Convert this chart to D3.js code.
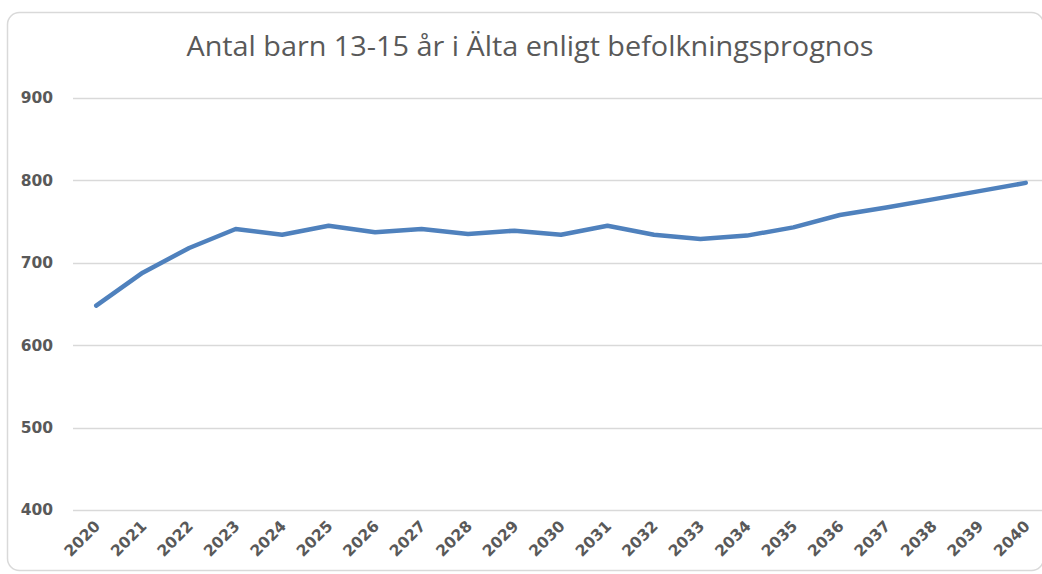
<!DOCTYPE html>
<html>
<head>
<meta charset="utf-8">
<script src="https://cdn.jsdelivr.net/npm/d3@7"></script>
<style>
  body { margin: 0; background: #fff; }
  svg { display: block; }
</style>
</head>
<body>
<svg id="chart"></svg>
<script>
// Data
const years = ["2020","2021","2022","2023","2024","2025","2026","2027","2028","2029","2030",
               "2031","2032","2033","2034","2035","2036","2037","2038","2039","2040"];
const children = [648, 688, 718, 741, 734, 745, 737, 741, 735, 739, 734,
                  745, 734, 729, 733, 743, 758, 767, 777, 787, 797];
const yTicks = [400, 500, 600, 700, 800, 900];
const title = "Antal barn 13-15 år i Älta enligt befolkningsprognos";

const width = 1042;
const height = 574;
const margin = { top: 98, right: -7, bottom: 64, left: 73 };

const svg = d3.select("#chart")
    .attr("width", width)
    .attr("height", height);

// chart frame (right edge falls just outside the picture)
svg.append("rect")
    .attr("x", 7.5).attr("y", 12.5)
    .attr("width", 1036).attr("height", 558)
    .attr("rx", 12)
    .attr("fill", "#fff")
    .attr("stroke", "#d9d9d9")
    .attr("stroke-width", 1.5);

const x = d3.scaleBand()
    .domain(years)
    .range([margin.left, width - margin.right]);

const y = d3.scaleLinear()
    .domain([400, 900])
    .range([height - margin.bottom, margin.top]);

// gridlines
svg.append("g")
    .selectAll("line")
    .data(yTicks)
    .join("line")
    .attr("x1", margin.left)
    .attr("x2", width - margin.right)
    .attr("y1", d => Math.round(y(d)) + 0.5)
    .attr("y2", d => Math.round(y(d)) + 0.5)
    .attr("stroke", "#d9d9d9")
    .attr("stroke-width", 1.5);

const labelFont = "'DejaVu Sans', Verdana, sans-serif";

// y axis labels
const yAxis = svg.append("g")
    .attr("transform", `translate(${margin.left},0)`)
    .call(d3.axisLeft(y).tickValues(yTicks).tickSize(0).tickPadding(20));
yAxis.select(".domain").remove();
yAxis.selectAll("text")
    .attr("font-family", labelFont)
    .attr("font-weight", "bold")
    .attr("font-size", 15.5)
    .attr("fill", "#595959");

// x axis labels
const xAxis = svg.append("g")
    .attr("transform", `translate(0,${height - margin.bottom})`)
    .call(d3.axisBottom(x).tickSize(0).tickPadding(0));
xAxis.select(".domain").remove();
xAxis.selectAll("text")
    .attr("font-family", labelFont)
    .attr("font-weight", "bold")
    .attr("font-size", 15.5)
    .attr("fill", "#595959")
    .attr("text-anchor", "end")
    .attr("dy", 0)
    .attr("transform", "translate(5,17) rotate(-45)");

// line
const line = d3.line()
    .x((d, i) => x(years[i]) + x.bandwidth() / 2)
    .y(d => y(d));

svg.append("path")
    .datum(children)
    .attr("fill", "none")
    .attr("stroke", "#4f81bd")
    .attr("stroke-width", 4.5)
    .attr("stroke-linejoin", "round")
    .attr("stroke-linecap", "round")
    .attr("d", line);

// title
svg.append("text")
    .attr("x", 530)
    .attr("y", 56)
    .attr("text-anchor", "middle")
    .attr("font-family", "'Open Sans', sans-serif")
    .attr("font-size", 28)
    .attr("textLength", 687)
    .attr("lengthAdjust", "spacingAndGlyphs")
    .attr("fill", "#595959")
    .text(title);
</script>
</body>
</html>
